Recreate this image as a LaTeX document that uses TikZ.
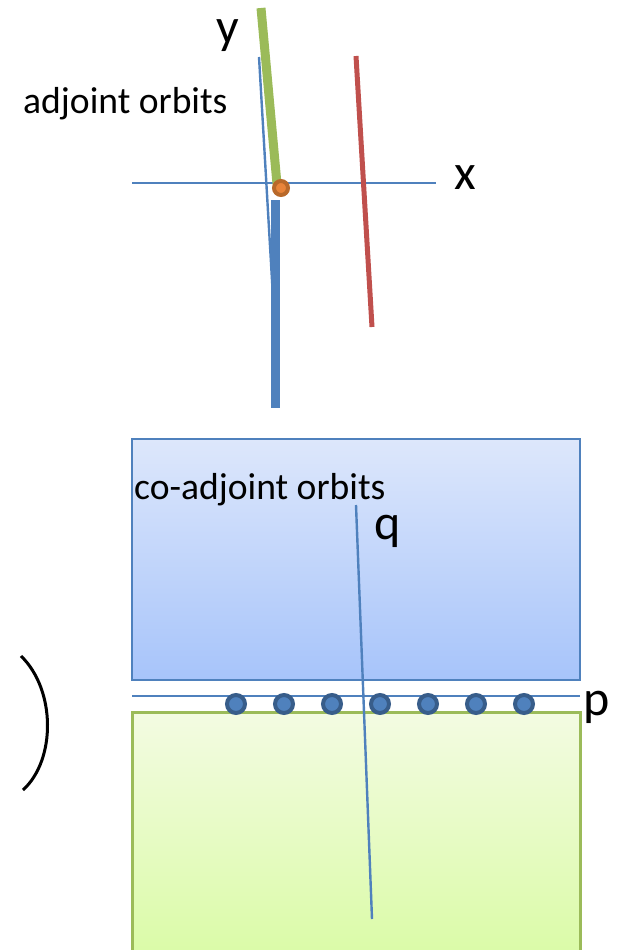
\documentclass[tikz,border=0pt]{standalone}
\usepackage{fontspec}
\setmainfont{Carlito}
\definecolor{ablue}{HTML}{4F81BD}
\definecolor{dblue}{HTML}{385D8A}
\definecolor{agreen}{HTML}{9BBB59}
\definecolor{ared}{HTML}{C0504D}
\definecolor{aorange}{HTML}{B8692A}
\definecolor{lorange}{HTML}{E8843A}
\definecolor{btop}{HTML}{DDE7FB}
\definecolor{bbot}{HTML}{A7C4FA}
\definecolor{gtop}{HTML}{F3FBE2}
\definecolor{gbot}{HTML}{DAFBA6}
\tikzset{
  lbl/.style={inner sep=0pt, font=\fontsize{37.6}{42}\selectfont},
  big/.style={inner sep=0pt, font=\fontsize{50}{56}\selectfont},
  thin/.style={draw=ablue, line width=2.4pt},
  pdot/.style={circle, fill=ablue, draw=dblue, line width=4pt, minimum size=18pt, inner sep=0pt}
}
\begin{document}
\begin{tikzpicture}[x=1pt,y=-1pt]
\useasboundingbox (0,0) rectangle (619,950);
% boxes
\shade[top color=btop, bottom color=bbot] (132,439) rectangle (580,680);
\draw[ablue, line width=2.5pt] (132,439) rectangle (580,680);
\shade[top color=gtop, bottom color=gbot] (132,712) rectangle (580,960);
\draw[agreen, line width=3pt] (132,960) -- (132,712) -- (580,712) -- (580,960);
% p line
\coordinate (p1) at (132,696);
\coordinate (p2) at (580,696);
\draw[thin] (p1) -- (p2);
\foreach \i/\xx in {1/236,2/284,3/332,4/380,5/428,6/476,7/524}
  \node[pdot] (d\i) at (\xx,704) {};
% q line
\coordinate (q1) at (356,505);
\coordinate (q2) at (372,919);
\draw[thin] (q1) -- (q2);
% top axes
\coordinate (xa) at (132,183);
\coordinate (xb) at (436,183);
\draw[thin] (xa) -- (xb);
\coordinate (t1) at (259,57);
\coordinate (t2) at (272,280);
\coordinate (b1) at (275,200);
\coordinate (b2) at (275,408);
\draw[thin] (t1) -- (t2) -- (275,330);
\draw[ablue, line width=9pt] (b1) -- (b2);
\coordinate (g1) at (261,8);
\coordinate (g2) at (277,184);
\draw[agreen, line width=9pt] (g1) -- (g2);
\coordinate (r1) at (356,56);
\coordinate (r2) at (372,327);
\draw[ared, line width=5pt] (r1) -- (r2);
\node[circle, fill=lorange, draw=aorange, line width=4pt, minimum size=14pt, inner sep=0pt] (o) at (281,188) {};
% parenthesis
\coordinate (pa) at (21,656);
\coordinate (pb) at (23,790);
\draw[black, line width=3pt] (pa) .. controls (56,690) and (56,760) .. (pb);
% labels
\node[lbl, anchor=west] (ad) at (23,104) {adjoint orbits};
\node[lbl, anchor=west] (co) at (134,490) {co-adjoint orbits};
\node[big] (ly) at (228,36) {y};
\node[big] (lx) at (465,178) {x};
\node[big] (lq) at (388,531) {q};
\node[big] (lp) at (597,707) {p};
\end{tikzpicture}
\end{document}
